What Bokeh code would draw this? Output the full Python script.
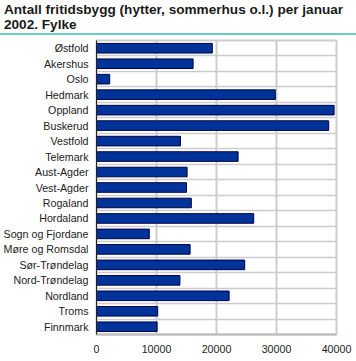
from bokeh.plotting import figure
from bokeh.models import Div, Range1d, FixedTicker, ColumnDataSource
from bokeh.layouts import column
from bokeh.embed import file_html
from bokeh.resources import INLINE

fylker = ["Østfold", "Akershus", "Oslo", "Hedmark", "Oppland", "Buskerud",
          "Vestfold", "Telemark", "Aust-Agder", "Vest-Agder", "Rogaland",
          "Hordaland", "Sogn og Fjordane", "Møre og Romsdal", "Sør-Trøndelag",
          "Nord-Trøndelag", "Nordland", "Troms", "Finnmark"]
antall = [19300, 16100, 2200, 29800, 39600, 38700,
          14000, 23600, 15100, 15000, 15800,
          26200, 8800, 15600, 24700,
          13900, 22100, 10200, 10100]
x_ticks = [0, 10000, 20000, 30000, 40000]
title_text = "Antall fritidsbygg (hytter, sommerhus o.l.) per januar 2002. Fylke"

FONT = "Liberation Sans"
n = len(fylker)
idx = list(range(n))
src = ColumnDataSource(dict(y=idx, v=antall, name=fylker))

title = Div(text=title_text, width=356, height=35, margin=(0, 0, 0, 0),
            styles={"font-family": FONT, "font-weight": "bold", "font-size": "13.6px",
                    "line-height": "15px", "color": "#1a1a1a", "padding": "2px 0 0 4px",
                    "box-sizing": "border-box", "width": "356px", "height": "35px",
                    "border-bottom": "2px solid #66cccc"})

p = figure(width=356, height=320, output_backend="svg", toolbar_location=None,
           x_range=Range1d(0, 40000), y_range=Range1d(n - 0.5, -0.5),
           min_border_left=94, min_border_right=20, min_border_top=5,
           min_border_bottom=21, margin=(0, 0, 0, 0))
p.hbar(y="y", right="v", left=0, height=0.62, source=src,
       fill_color="#003399", line_color="#000044", line_width=1)

p.xaxis.ticker = FixedTicker(ticks=x_ticks)
p.yaxis.ticker = FixedTicker(ticks=idx)
p.yaxis.major_label_overrides = {i: s for i, s in enumerate(fylker)}
for ax in (p.xaxis, p.yaxis):
    ax.major_tick_line_color = None
    ax.minor_tick_line_color = None
    ax.major_label_text_font = FONT
    ax.major_label_text_font_size = "10.7px"
    ax.major_label_text_color = "#222222"
    ax.major_label_standoff = 2
p.xaxis.major_label_standoff = 4
p.yaxis.axis_line_color = "#222222"
p.xaxis.axis_line_color = "#bbbbbb"
p.xaxis.axis_line_width = 2

p.xgrid.ticker = FixedTicker(ticks=x_ticks)
p.xgrid.grid_line_color = "#cccccc"
p.xgrid.grid_line_width = 2
p.ygrid.ticker = FixedTicker(ticks=[i + 0.5 for i in range(-1, n)])
p.ygrid.grid_line_color = "#cccccc"
p.ygrid.grid_line_width = 1.5
p.outline_line_color = "#cccccc"
p.outline_line_width = 2
p.background_fill_color = "white"
p.border_fill_color = "white"

strip = figure(width=356, height=3, output_backend="svg", toolbar_location=None,
               min_border=0, margin=(0, 0, 0, 0), x_axis_type=None, y_axis_type=None)
strip.background_fill_color = "#66cccc"
strip.border_fill_color = "#66cccc"
strip.outline_line_color = None
strip.xgrid.visible = False
strip.ygrid.visible = False

layout = column(title, p, strip, spacing=0, margin=(0, 0, 0, 0))
open("out.html", "w").write(file_html(layout, INLINE))
